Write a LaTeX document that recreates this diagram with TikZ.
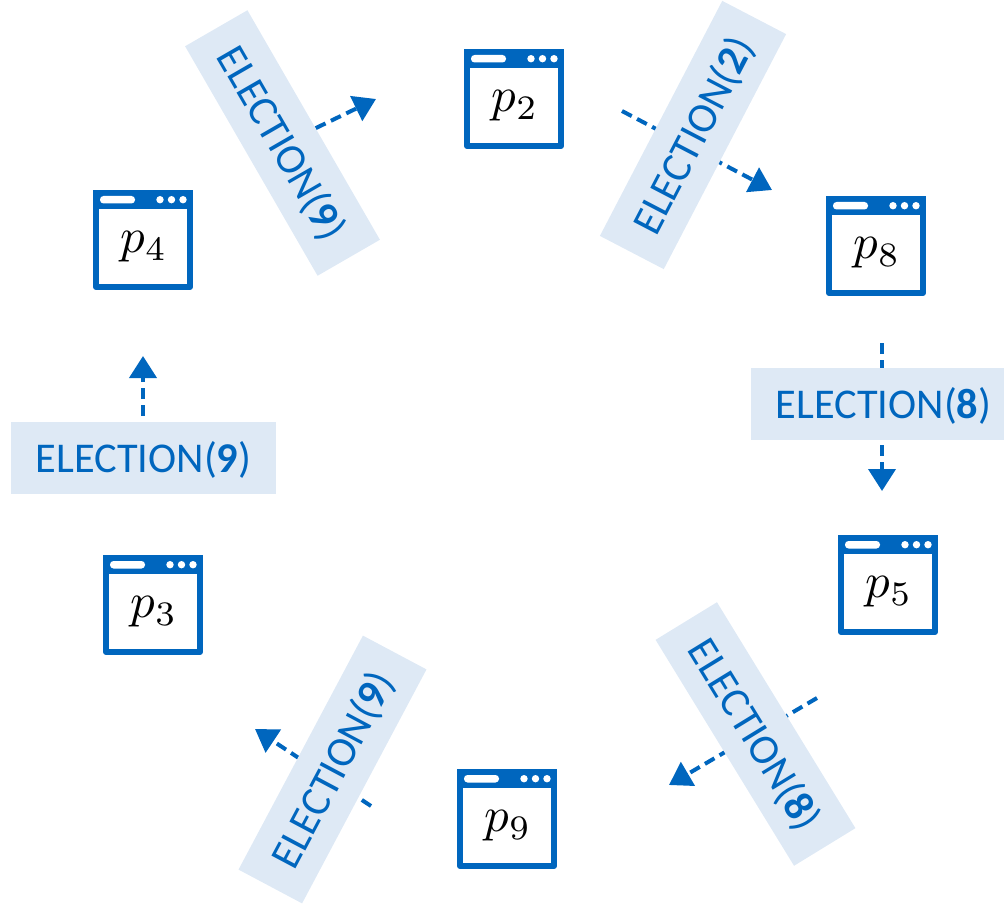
\documentclass[tikz,border=0pt]{standalone}
\usepackage{fontspec}
\setmainfont{Carlito}
\usetikzlibrary{arrows.meta}
\definecolor{win_blue}{RGB}{0,102,190}
\definecolor{msg_blue}{RGB}{222,233,245}

\begin{document}
\begin{tikzpicture}[x=1pt,y=-1pt]
    \tikzstyle{win}=[draw=win_blue, line width=6pt, line join=round, fill=white, minimum size=94pt, inner sep=0pt]
    \tikzstyle{procname}=[text=black, inner sep=0pt, scale=4.9]
    \tikzstyle{msg}=[fill=msg_blue, text=win_blue, minimum width=265pt, minimum height=72pt, inner sep=0pt, text height=40pt, text depth=10.8pt, font=\fontsize{42.4}{46}\selectfont]
    \tikzstyle{flow}=[color=win_blue, line width=4pt, dash pattern=on 11pt off 6pt, -{Triangle[length=22pt,width=27pt]}]

    \useasboundingbox (0,0) rectangle (1004,904);

    % the six processes
    \foreach \n/\x/\y in {2/514/99, 8/876/246, 5/888/585, 9/507/819, 3/153/605, 4/143/240} {
        \node[win] (p\n) at (\x,\y) {};
        \begin{scope}[shift={(p\n.north west)}]
            \fill[win_blue] (0,0) rectangle (100,19);
            \fill[white, rounded corners=3.5pt] (7,6) rectangle (42,13.5);
            \fill[white] (67,9.7) circle (3.7pt) (78.5,9.7) circle (3.7pt) (90,9.7) circle (3.7pt);
        \end{scope}
        \node[procname] (n\n) at ([xshift=1pt,yshift=-7pt]p\n) {$p_\n$};
    }

    % free ends of the messages
    \coordinate (a1) at (622,111);
    \coordinate (a2) at (772,190);
    \coordinate (b1) at (882,343);
    \coordinate (b2) at (882,491);
    \coordinate (c1) at (817,698);
    \coordinate (c2) at (669,785);
    \coordinate (d1) at (371,806);
    \coordinate (d2) at (255,729);
    \coordinate (e1) at (143,450);
    \coordinate (e2) at (143,356);
    \coordinate (f1) at (285,143);
    \coordinate (f2) at (376,99);

    \path[flow]
     (a1) edge (a2)
     (b1) edge (b2)
     (c1) edge (c2)
     (d1) edge (d2)
     (e1) edge (e2)
     (f1) edge (f2)
     ;

    \node[msg, rotate=62.5] (m2) at (693,135)     {ELECTION({\bfseries 2})};
    \node[msg]              (m8) at (883.5,404)   {ELECTION({\bfseries 8})};
    \node[msg, rotate=-58.5] (m8b) at (755.5,734) {ELECTION({\bfseries 8})};
    \node[msg, rotate=62]   (m9a) at (332.5,769.5) {ELECTION({\bfseries 9})};
    \node[msg]              (m9b) at (143.5,458)  {ELECTION({\bfseries 9})};
    \node[msg, rotate=-60]  (m9c) at (282.5,143)  {ELECTION({\bfseries 9})};
\end{tikzpicture}
\end{document}
